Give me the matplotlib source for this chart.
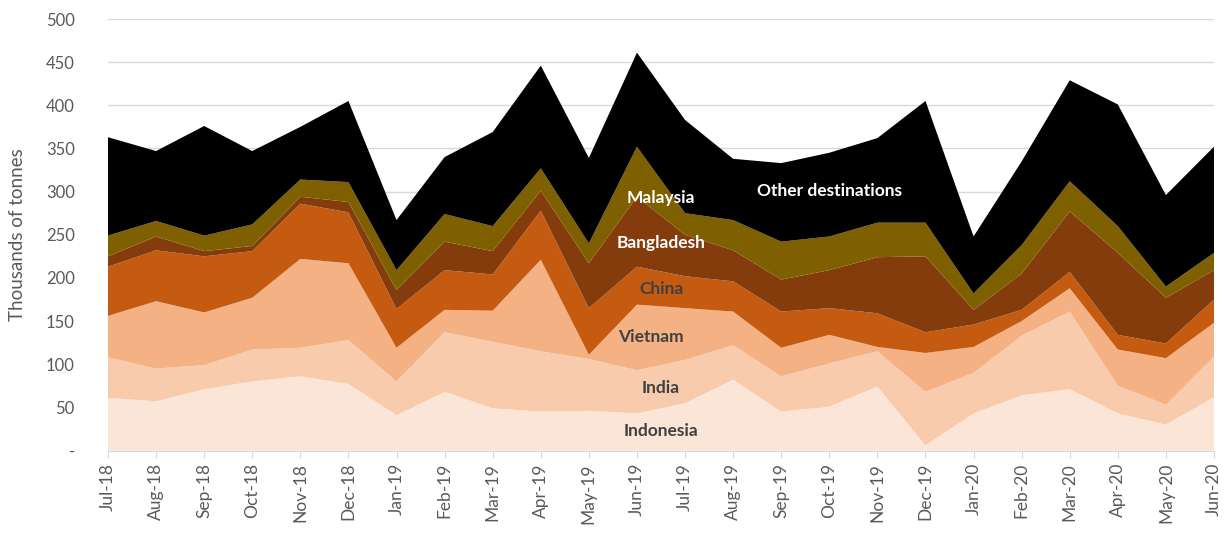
import matplotlib
matplotlib.use("Agg")
import matplotlib.pyplot as plt
import numpy as np

# ── Data (thousands of tonnes) ────────────────────────────────────────────────

MONTHS = ["Jul-18", "Aug-18", "Sep-18", "Oct-18", "Nov-18", "Dec-18",
          "Jan-19", "Feb-19", "Mar-19", "Apr-19", "May-19", "Jun-19",
          "Jul-19", "Aug-19", "Sep-19", "Oct-19", "Nov-19", "Dec-19",
          "Jan-20", "Feb-20", "Mar-20", "Apr-20", "May-20", "Jun-20"]

indonesia  = [61, 57, 71, 80, 86, 77, 41, 68, 49, 45, 46, 43,
              55, 82, 45, 51, 74, 6, 43, 64, 71, 43, 30, 62]
india      = [47, 38, 28, 37, 33, 51, 39, 69, 77, 70, 60, 50,
              50, 40, 41, 50, 41, 62, 47, 69, 90, 32, 23, 47]
vietnam    = [48, 78, 61, 60, 103, 89, 39, 26, 36, 106, 5, 76,
              60, 39, 33, 33, 5, 45, 30, 17, 27, 42, 54, 39]
china      = [57, 59, 65, 54, 64, 59, 45, 46, 42, 57, 54, 44,
              37, 35, 42, 31, 39, 24, 26, 13, 19, 17, 17, 27]
bangladesh = [12, 16, 6, 6, 8, 12, 22, 33, 27, 23, 52, 81,
              48, 36, 37, 44, 65, 88, 17, 42, 70, 95, 53, 34]
malaysia   = [24, 18, 18, 25, 20, 23, 23, 32, 29, 26, 23, 58,
              25, 35, 44, 39, 40, 39, 19, 33, 35, 31, 13, 20]
other      = [114, 81, 127, 85, 61, 94, 58, 66, 109, 119, 99, 109,
              108, 71, 91, 97, 98, 141, 66, 97, 117, 141, 106, 123]

SERIES = ["Indonesia", "India", "Vietnam", "China",
          "Bangladesh", "Malaysia", "Other destinations"]
COLORS = ["#fbe5d6", "#f8cbad", "#f4b183", "#c55a11",
          "#843c0c", "#7f6000", "#000000"]

YTICKS = [0, 50, 100, 150, 200, 250, 300, 350, 400, 450, 500]
YTICK_LABELS = ["-"] + [str(v) for v in YTICKS[1:]]

# ── Figure ────────────────────────────────────────────────────────────────────

plt.rcParams["font.family"] = ["Lato", "DejaVu Sans"]

fig = plt.figure(figsize=(12.27, 5.33), dpi=100)
ax = fig.add_axes([108 / 1227, 1 - 450.5 / 533, (1214 - 108) / 1227, (450.5 - 19) / 533])

x = np.arange(len(MONTHS))
ax.stackplot(x, indonesia, india, vietnam, china, bangladesh, malaysia, other,
             colors=COLORS, labels=SERIES, linewidth=0, zorder=2)

ax.set_xlim(0, len(MONTHS) - 1)
ax.set_ylim(0, 500)
ax.set_yticks(YTICKS)
ax.set_yticklabels(YTICK_LABELS, fontsize=12, color="#595959")
ax.set_xticks(x)
ax.set_xticklabels(MONTHS, rotation=90, fontsize=12.5, color="#595959")
ax.tick_params(axis="y", length=0, pad=24)
ax.tick_params(axis="x", length=5, color="#d9d9d9", pad=4)

ax.grid(True, axis="y", color="#d9d9d9", linewidth=1, zorder=0)
ax.set_axisbelow(True)
for side in ["top", "right", "left"]:
    ax.spines[side].set_visible(False)
ax.spines["bottom"].set_color("#d9d9d9")
ax.spines["bottom"].set_zorder(3)

ax.set_ylabel("Thousands of tonnes", fontsize=13.5, color="#595959", labelpad=14)

# ── In-chart series labels ────────────────────────────────────────────────────

labels = [
    ("Indonesia", 11.5, 23, "#404040"),
    ("India", 11.5, 73, "#404040"),
    ("Vietnam", 11.3, 132, "#404040"),
    ("China", 11.5, 187, "#404040"),
    ("Bangladesh", 11.5, 240, "white"),
    ("Malaysia", 11.5, 293, "white"),
    ("Other destinations", 15.0, 301, "white"),
]
for text, xv, yv, color in labels:
    ax.text(xv, yv, text, ha="center", va="center", fontsize=12.5,
            fontweight="bold", color=color, zorder=4)

plt.savefig("out.png", dpi=100)
